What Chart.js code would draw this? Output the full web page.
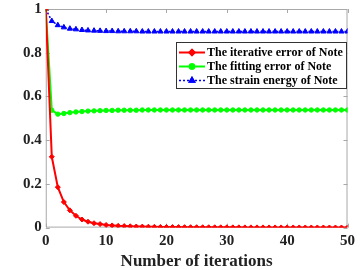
<!DOCTYPE html>
<html>
<head>
<meta charset="utf-8">
<script src="https://cdn.jsdelivr.net/npm/chart.js@4.4.1/dist/chart.umd.min.js"></script>
<style>
html,body{margin:0;padding:0;background:#fff;}
#wrap{width:360px;height:270px;position:relative;}
</style>
</head>
<body>
<div id="wrap"><canvas id="c" width="360" height="270"></canvas></div>
<script>
const iterations = Array.from({length: 51}, (_, i) => i);
const iterativeError = [1, 0.324, 0.185, 0.117, 0.079, 0.054, 0.037, 0.027, 0.020, 0.016, 0.012,
  0.010, 0.008, 0.007, 0.006, 0.005, 0.0045, 0.004, 0.0035, 0.003, 0.0028,
  0.0025, 0.0023, 0.0021, 0.0019, 0.0018, 0.0016, 0.0015, 0.0014, 0.0013, 0.0012,
  0.0011, 0.0011, 0.001, 0.001, 0.0009, 0.0009, 0.0008, 0.0008, 0.0008, 0.0007,
  0.0007, 0.0007, 0.0006, 0.0006, 0.0006, 0.0006, 0.0005, 0.0005, 0.0005, 0.0005];
const fittingError = [1, 0.537, 0.519, 0.522, 0.526, 0.529, 0.531, 0.533, 0.534, 0.535, 0.536,
  0.536, 0.537, 0.537, 0.537, 0.537, 0.538, 0.538, 0.538, 0.538, 0.538,
  0.538, 0.538, 0.538, 0.538, 0.538, 0.538, 0.538, 0.538, 0.538, 0.538,
  0.538, 0.538, 0.538, 0.538, 0.538, 0.538, 0.538, 0.538, 0.538, 0.538,
  0.538, 0.538, 0.538, 0.538, 0.538, 0.538, 0.538, 0.538, 0.538, 0.538];
const strainEnergy = [1, 0.945, 0.926, 0.916, 0.910, 0.907, 0.904, 0.902, 0.901, 0.900, 0.899,
  0.899, 0.898, 0.898, 0.898, 0.898, 0.897, 0.897, 0.897, 0.897, 0.897,
  0.897, 0.897, 0.897, 0.897, 0.897, 0.897, 0.897, 0.897, 0.897, 0.897,
  0.897, 0.897, 0.897, 0.897, 0.897, 0.897, 0.897, 0.897, 0.897, 0.897,
  0.897, 0.897, 0.897, 0.897, 0.897, 0.897, 0.897, 0.897, 0.897, 0.897];
const seriesLabels = ['The iterative error of Note', 'The fitting error of Note', 'The strain energy of Note'];
const xTicks = [0, 10, 20, 30, 40, 50];
const yTicks = [0, 0.2, 0.4, 0.6, 0.8, 1];
const xTitle = 'Number of iterations';

const toPts = arr => iterations.map((x, i) => ({x: x, y: arr[i]}));
const FONT = "'Liberation Serif', 'Times New Roman', serif";
const AX = '#a8a8a8';

const boxPlugin = {
  id: 'box',
  beforeDatasetsDraw(chart) {
    const {ctx, chartArea: a, scales: {x, y}} = chart;
    ctx.save();
    ctx.strokeStyle = AX;
    ctx.lineWidth = 1;
    ctx.beginPath();
    ctx.rect(a.left + 0.5, a.top + 0.5, a.right - a.left - 1, a.bottom - a.top - 1);
    ctx.stroke();
    ctx.beginPath();
    const L = 4;
    xTicks.forEach(v => {
      const px = Math.round(x.getPixelForValue(v)) + 0.5;
      ctx.moveTo(px, a.bottom); ctx.lineTo(px, a.bottom - L);
      ctx.moveTo(px, a.top); ctx.lineTo(px, a.top + L);
    });
    yTicks.forEach(v => {
      const py = Math.round(y.getPixelForValue(v)) + 0.5;
      ctx.moveTo(a.left, py); ctx.lineTo(a.left + L, py);
      ctx.moveTo(a.right, py); ctx.lineTo(a.right - L, py);
    });
    ctx.stroke();
    ctx.restore();
  },
  afterDatasetsDraw(chart) {
    const {ctx} = chart;
    const bx = 176, by = 42, bw = 170, bh = 46;
    ctx.save();
    ctx.fillStyle = '#fff';
    ctx.fillRect(bx, by, bw, bh);
    ctx.strokeStyle = '#333';
    ctx.lineWidth = 1;
    ctx.strokeRect(bx + 0.5, by + 0.5, bw, bh);
    ctx.font = "bold 12px " + FONT;
    ctx.textBaseline = 'middle';
    chart.data.datasets.forEach((ds, i) => {
      const yy = by + 10.5 + i * 14;
      ctx.strokeStyle = ds.borderColor;
      ctx.lineWidth = ds.borderWidth;
      ctx.setLineDash(ds.borderDash || []);
      ctx.beginPath();
      ctx.moveTo(bx + 3, yy); ctx.lineTo(bx + 29, yy);
      ctx.stroke();
      ctx.setLineDash([]);
      Chart.helpers.drawPoint(ctx, {
        pointStyle: ds.pointStyle, radius: ds.pointRadius, borderWidth: 1, rotation: 0
      }, bx + 16, yy);
      ctx.fillStyle = ds.borderColor;
      ctx.strokeStyle = ds.borderColor;
      ctx.fill(); ctx.stroke();
      ctx.fillStyle = '#000';
      ctx.fillText(ds.label, bx + 31, yy + 0.5);
    });
    ctx.restore();
  }
};

new Chart(document.getElementById('c'), {
  type: 'line',
  data: {
    datasets: [
      {label: seriesLabels[0], data: toPts(iterativeError), borderColor: '#ff0000', backgroundColor: '#ff0000',
       borderWidth: 2, pointStyle: 'rectRot', pointRadius: 2.5, pointBorderWidth: 1},
      {label: seriesLabels[1], data: toPts(fittingError), borderColor: '#00ff00', backgroundColor: '#00ff00',
       borderWidth: 2, pointStyle: 'circle', pointRadius: 2.2, pointBorderWidth: 1},
      {label: seriesLabels[2], data: toPts(strainEnergy), borderColor: '#0000ff', backgroundColor: '#0000ff',
       borderWidth: 1.5, borderDash: [2, 2], pointStyle: 'triangle', pointRadius: 3, pointBorderWidth: 1}
    ]
  },
  plugins: [boxPlugin],
  options: {
    responsive: false,
    animation: false,
    layout: {padding: {left: 19, right: 0, top: 9, bottom: 0}},
    plugins: {legend: {display: false}, tooltip: {enabled: false}},
    scales: {
      x: {
        type: 'linear', min: 0, max: 50,
        afterBuildTicks: s => { s.ticks = xTicks.map(v => ({value: v})); },
        grid: {display: false, drawTicks: false},
        border: {display: false},
        ticks: {font: {family: FONT, size: 15, weight: 'bold'}, color: '#222', padding: 5, maxRotation: 0,
                callback: v => String(v)},
        title: {display: true, text: xTitle, font: {family: FONT, size: 17, weight: 'bold'}, color: '#222', padding: {top: -4, bottom: -2}}
      },
      y: {
        min: 0, max: 1,
        afterBuildTicks: s => { s.ticks = yTicks.map(v => ({value: v})); },
        afterFit: s => { s.paddingTop = 0; s.paddingBottom = 0; },
        grid: {display: false, drawTicks: false},
        border: {display: false},
        ticks: {font: {family: FONT, size: 15, weight: 'bold'}, color: '#222', padding: 4,
                callback: v => String(Math.round(v * 10) / 10)}
      }
    }
  }
});
</script>
</body>
</html>
